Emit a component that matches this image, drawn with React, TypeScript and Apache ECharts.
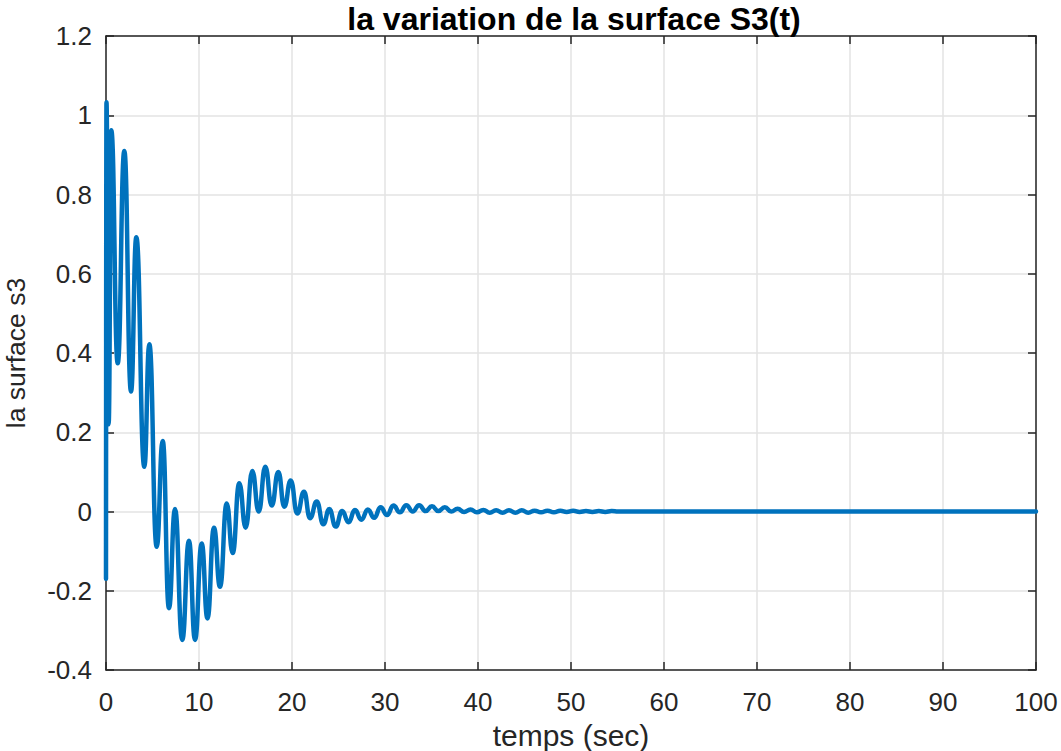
import React, { useEffect, useRef } from "react";
import * as echarts from "echarts";

// Sliding-surface response s3(t): turning points of the oscillation (time in s)
const timeSec: number[] = [
  0, 0.05, 0.28, 0.57, 1.26, 1.97, 2.69, 3.26, 4.12, 4.66, 5.45, 6.1, 6.77, 7.42,
  8.2, 8.92, 9.57, 10.29, 10.91, 11.61, 12.26, 12.98, 13.62, 14.33, 15.02, 15.73,
  16.42, 17.13, 17.82, 18.53, 19.17, 19.86, 20.57, 21.29, 21.94, 22.66, 23.37,
  24.01, 24.7, 25.39, 26.08, 26.77, 27.46, 28.15, 28.84, 29.53, 30.22, 30.91,
  31.6, 32.29, 32.98, 33.67, 34.36, 35.05, 35.74, 36.43, 37.12, 37.81, 38.5,
  39.19, 39.88, 40.57, 41.26, 41.95, 42.64, 43.33, 44.02, 44.71, 45.4, 46.09,
  46.78, 47.47, 48.16, 48.85, 49.54, 50.23, 50.92, 51.61, 52.3, 52.99, 53.68,
  54.37, 55.06, 60, 100,
];

const surfaceS3: number[] = [
  -0.17, 1.033, 0.22, 0.962, 0.374, 0.91, 0.303, 0.692, 0.113, 0.422, -0.089,
  0.178, -0.244, 0.006, -0.324, -0.074, -0.324, -0.081, -0.27, -0.041, -0.19,
  0.02, -0.105, 0.071, -0.041, 0.102, 0.0, 0.113, 0.015, 0.1, 0.012, 0.078,
  -0.005, 0.05, -0.017, 0.025, -0.032, 0.006, -0.038, 0.001, -0.027, 0.004,
  -0.021, 0.005, -0.016, 0.011, -0.009, 0.015, -0.002, 0.016, 0.0, 0.016, 0.001,
  0.013, 0.001, 0.011, 0.0, 0.007, -0.001, 0.005, -0.002, 0.004, -0.003, 0.003,
  -0.003, 0.003, -0.003, 0.003, -0.003, 0.002, -0.002, 0.002, -0.002, 0.002,
  -0.001, 0.002, -0.001, 0.001, -0.001, 0.001, -0.001, 0.001, 0.0, 0.0, 0.0,
];

const xTicks = { min: 0, max: 100, step: 10 };
const yTicks = { min: -0.4, max: 1.2, step: 0.2 };

const FONT = "'Liberation Sans', Arial, Helvetica, sans-serif";
const AXIS_COLOR = "#262626";
const GRID_COLOR = "#e3e3e3";

export default function App() {
  const ref = useRef<HTMLDivElement>(null);

  useEffect(() => {
    if (!ref.current) return;
    const chart = echarts.init(ref.current, undefined, { renderer: "svg" });
    const points = timeSec.map((t, i) => [t, surfaceS3[i]]);

    const fmt = (v: number) => String(+v.toFixed(1));

    const baseX = {
      type: "value" as const,
      min: xTicks.min,
      max: xTicks.max,
      interval: xTicks.step,
      axisLine: { show: true, onZero: false, lineStyle: { color: AXIS_COLOR, width: 1.5 } },
      axisTick: { show: true, inside: true, length: 8, lineStyle: { color: AXIS_COLOR, width: 1.5 } },
    };
    const baseY = {
      type: "value" as const,
      min: yTicks.min,
      max: yTicks.max,
      interval: yTicks.step,
      axisLine: { show: true, onZero: false, lineStyle: { color: AXIS_COLOR, width: 1.5 } },
      axisTick: { show: true, inside: true, length: 8, lineStyle: { color: AXIS_COLOR, width: 1.5 } },
    };

    chart.setOption({
      animation: false,
      backgroundColor: "#ffffff",
      title: {
        text: "la variation de la surface S3(t)",
        left: 569,
        top: -2,
        textAlign: "center",
        textStyle: { fontFamily: FONT, fontWeight: "bold", fontSize: 32, color: "#000" },
      },
      grid: {
        left: 106,
        right: 25,
        top: 36,
        bottom: 81,
        containLabel: false,
        outerBoundsMode: "none",
      },
      xAxis: [
        {
          ...baseX,
          position: "bottom",
          name: "temps (sec)",
          nameLocation: "middle",
          nameGap: 50,
          nameTextStyle: { fontFamily: FONT, fontSize: 30, color: AXIS_COLOR },
          axisLabel: { fontFamily: FONT, fontSize: 26, color: AXIS_COLOR, margin: 19, formatter: fmt },
          splitLine: { show: true, lineStyle: { color: GRID_COLOR, width: 1.5 } },
        },
        {
          ...baseX,
          position: "top",
          axisLabel: { show: false },
          splitLine: { show: false },
        },
      ],
      yAxis: [
        {
          ...baseY,
          position: "left",
          name: "la surface s3",
          nameLocation: "middle",
          nameGap: 77,
          nameTextStyle: { fontFamily: FONT, fontSize: 26.5, color: AXIS_COLOR },
          axisLabel: { fontFamily: FONT, fontSize: 26, color: AXIS_COLOR, margin: 14, formatter: fmt },
          splitLine: { show: true, lineStyle: { color: GRID_COLOR, width: 1.5 } },
        },
        {
          ...baseY,
          position: "right",
          axisLabel: { show: false },
          splitLine: { show: false },
        },
      ],
      series: [
        {
          type: "line",
          data: points,
          xAxisIndex: 0,
          yAxisIndex: 0,
          showSymbol: false,
          smooth: 0.5,
          smoothMonotone: "x",
          lineStyle: { color: "#0072BD", width: 4.5, cap: "round", join: "round" },
          z: 3,
        },
      ],
    });

    return () => chart.dispose();
  }, []);

  return (
    <div
      ref={ref}
      style={{ position: "fixed", left: 0, top: 0, width: 1061, height: 751 }}
    />
  );
}
